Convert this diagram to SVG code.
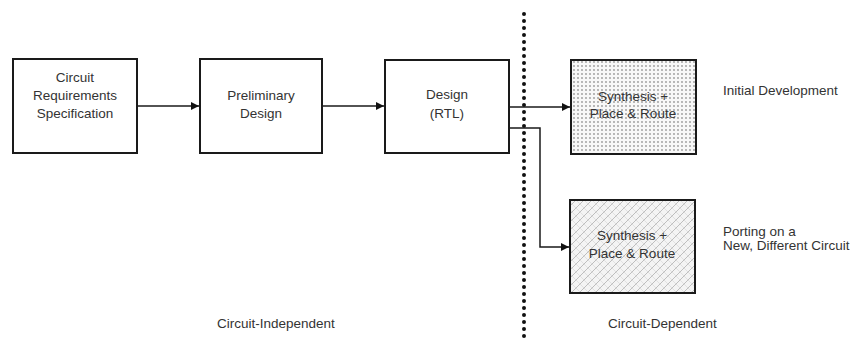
<svg xmlns="http://www.w3.org/2000/svg" width="855" height="341" viewBox="0 0 855 341">
<style>
.box{fill:#fff;stroke:#1a1a1a;stroke-width:2}
.t{font-family:"Liberation Sans",Arial,sans-serif;font-size:13.5px;fill:#333;text-anchor:middle}
.l{font-family:"Liberation Sans",Arial,sans-serif;font-size:13.5px;fill:#333}
.c{fill:none;stroke:#1a1a1a;stroke-width:1.5}
</style>
<defs>
<marker id="ah" viewBox="0 0 10 10" refX="10" refY="5" markerWidth="8" markerHeight="8" markerUnits="userSpaceOnUse" orient="auto">
<path d="M0,0 L10,5 L0,10 Z" fill="#111"/>
</marker>
<pattern id="dots" width="4" height="4" patternUnits="userSpaceOnUse">
<rect width="4" height="4" fill="#f8f8f8"/>
<circle cx="2" cy="2" r="0.9" fill="#999"/>
</pattern>
<pattern id="hatch" width="8" height="8" patternUnits="userSpaceOnUse">
<rect width="8" height="8" fill="#f4f4f4"/>
<path d="M0,8 L8,0 M-2,2 L2,-2 M6,10 L10,6" stroke="#b8b8b8" stroke-width="0.9"/>
<path d="M0,0 L8,8" stroke="#d8d8d8" stroke-width="0.7"/>
</pattern>
</defs>

<g id="divider">
<line x1="524" y1="14" x2="524" y2="338" stroke="#111" stroke-width="4" stroke-linecap="round" stroke-dasharray="0 7"/>
</g>

<g id="connectors">
<line class="c" x1="137" y1="106" x2="199" y2="106" marker-end="url(#ah)"/>
<line class="c" x1="322" y1="106" x2="384" y2="106" marker-end="url(#ah)"/>
<line class="c" x1="509" y1="107" x2="570" y2="107" marker-end="url(#ah)"/>
<polyline class="c" points="509,128 540,128 540,247 569,247" marker-end="url(#ah)"/>
</g>

<g id="n-req">
<rect class="box" x="13" y="59" width="124" height="94"/>
<text class="t" x="75" y="82">Circuit</text>
<text class="t" x="75" y="100">Requirements</text>
<text class="t" x="75" y="118">Specification</text>
</g>

<g id="n-prelim">
<rect class="box" x="200" y="59" width="122" height="94"/>
<text class="t" x="261" y="100">Preliminary</text>
<text class="t" x="261" y="118">Design</text>
</g>

<g id="n-design">
<rect class="box" x="385" y="60" width="124" height="93"/>
<text class="t" x="447" y="99">Design</text>
<text class="t" x="447" y="118">(RTL)</text>
</g>

<g id="n-synth1">
<rect class="box" x="571" y="60" width="125" height="94" style="fill:url(#dots)"/>
<text class="t" x="633" y="101">Synthesis +</text>
<text class="t" x="633" y="118">Place &amp; Route</text>
</g>

<g id="n-synth2">
<rect class="box" x="570" y="200" width="125" height="93" style="fill:url(#hatch)"/>
<text class="t" x="632" y="240">Synthesis +</text>
<text class="t" x="632" y="258">Place &amp; Route</text>
</g>

<g id="labels">
<text class="l" x="723" y="95">Initial Development</text>
<text class="l" x="723" y="236">Porting on a</text>
<text class="l" x="723" y="250">New, Different Circuit</text>
<text class="l" x="217" y="328">Circuit-Independent</text>
<text class="l" x="608" y="328">Circuit-Dependent</text>
</g>
</svg>
